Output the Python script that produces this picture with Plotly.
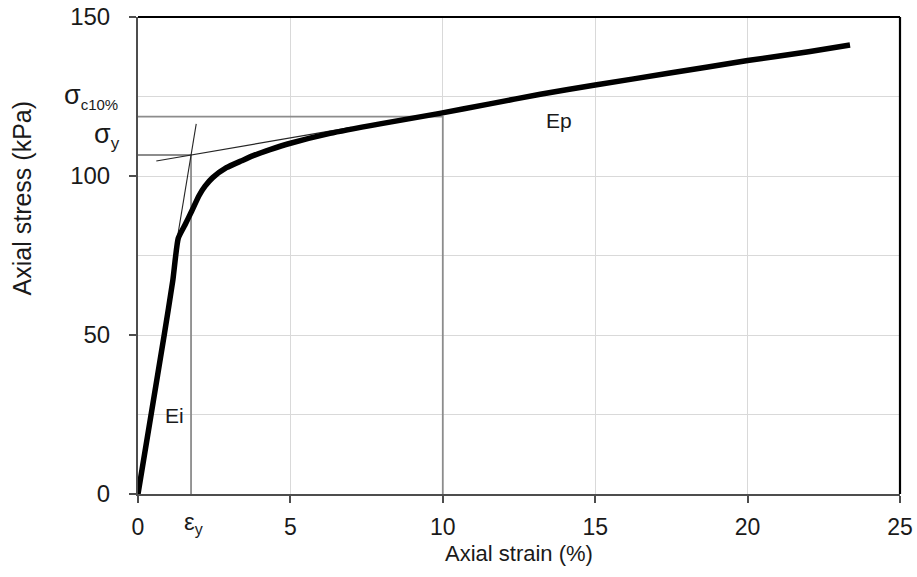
import plotly.graph_objects as go

# ---- data ----
strain = [0, 0.43, 0.86, 1.14, 1.32, 1.54, 1.76, 2.0, 2.2, 2.45, 2.9, 3.4, 3.78, 4.33,
          5.0, 6.3, 7.94, 9.9, 11.5, 13.2, 15.0, 17.4, 20.0, 22.0, 23.36]
stress = [0, 25, 50, 67, 80.4, 84.6, 88.9, 93.8, 96.8, 99.5, 102.6, 104.8, 106.4, 108.3,
          110.3, 113.4, 116.4, 119.7, 122.6, 125.7, 128.6, 132.3, 136.3, 139.1, 141.2]

eps_y = 1.74          # yield strain (%)
sigma_y = 106.6       # yield stress (kPa)
eps_10 = 10.0         # 10 % strain
sigma_c10 = 118.7     # stress at 10 % strain (kPa)

ei_x = [1.2, 1.91]    # initial-modulus tangent
ei_y = [75.3, 116.4]
ep_x = [0.6, 7.0]     # plastic-modulus tangent
ep_y = [104.7, 115.3]

x_ticks = [0, 5, 10, 15, 20, 25]
y_ticks = [0, 50, 100, 150]

REF = "#8c8c8c"
TAN = "#262626"

fig = go.Figure()

# reference (construction) lines
fig.add_trace(go.Scatter(x=[0, eps_10, eps_10], y=[sigma_c10, sigma_c10, 0], mode="lines",
                         line=dict(color=REF, width=1.8), hoverinfo="skip", showlegend=False))
fig.add_trace(go.Scatter(x=[0, eps_y, eps_y], y=[sigma_y, sigma_y, 0], mode="lines",
                         line=dict(color=REF, width=1.8), hoverinfo="skip", showlegend=False))
# tangents
fig.add_trace(go.Scatter(x=ei_x, y=ei_y, mode="lines",
                         line=dict(color=TAN, width=1.1), hoverinfo="skip", showlegend=False))
fig.add_trace(go.Scatter(x=ep_x, y=ep_y, mode="lines",
                         line=dict(color=TAN, width=1.1), hoverinfo="skip", showlegend=False))
# stress-strain curve
fig.add_trace(go.Scatter(x=strain, y=stress, mode="lines",
                         line=dict(color="black", width=5.5, shape="spline", smoothing=0.5),
                         showlegend=False))

font_main = "Liberation Sans, Arial, sans-serif"

fig.update_xaxes(range=[0, 25], tickvals=x_ticks, ticktext=[str(v) for v in x_ticks],
                 showgrid=True, gridcolor="#d9d9d9", gridwidth=1,
                 showline=True, linecolor="#4d4d4d", linewidth=2,
                 ticks="outside", ticklen=7, tickcolor="#4d4d4d", tickwidth=1.5,
                 ticklabelstandoff=4,
                 tickfont=dict(family=font_main, size=23, color="#1a1a1a"),
                 zeroline=False, fixedrange=True, automargin=False)
fig.update_yaxes(range=[0, 150], tickvals=y_ticks, ticktext=[str(v) for v in y_ticks],
                 showgrid=True, gridcolor="#d9d9d9", gridwidth=1,
                 minor=dict(dtick=25, showgrid=True, gridcolor="#d9d9d9", gridwidth=1, ticks=""),
                 showline=True, linecolor="#4d4d4d", linewidth=2,
                 ticks="outside", ticklen=7, tickcolor="#4d4d4d", tickwidth=1.5,
                 ticklabelstandoff=14,
                 tickfont=dict(family=font_main, size=24, color="#1a1a1a"),
                 zeroline=False, fixedrange=True, automargin=False)

annotations = [
    dict(text="Axial stress (kPa)", xref="paper", yref="paper", x=-0.152, y=0.62,
         textangle=-90, showarrow=False, font=dict(family=font_main, size=25, color="#1a1a1a"),
         xanchor="center", yanchor="middle"),
    dict(text="Axial strain (%)", xref="paper", yref="paper", x=0.5, y=-0.124,
         showarrow=False, font=dict(family=font_main, size=22, color="#1a1a1a"),
         xanchor="center", yanchor="middle"),
    dict(text="σ<sub><span style='font-size:15px'>c10%</span></sub>", xref="paper", yref="paper",
         x=-0.1, y=0.834,
         showarrow=False, font=dict(family=font_main, size=27, color="#1a1a1a"),
         xanchor="left", yanchor="middle"),
    dict(text="σ<sub><span style='font-size:17px'>y</span></sub>", xref="paper", yref="paper",
         x=-0.0604, y=0.7505,
         showarrow=False, font=dict(family=font_main, size=27, color="#1a1a1a"),
         xanchor="left", yanchor="middle"),
    dict(text="ε<sub><span style='font-size:16px'>y</span></sub>", xref="paper", yref="paper",
         x=0.073, y=-0.0608,
         showarrow=False, font=dict(family=font_main, size=24, color="#1a1a1a"),
         xanchor="center", yanchor="middle"),
    dict(text="Ei", x=1.21, y=24.8, showarrow=False,
         font=dict(family=font_main, size=21, color="#1a1a1a"), xanchor="center", yanchor="middle"),
    dict(text="Ep", x=13.8, y=117.6, showarrow=False,
         font=dict(family=font_main, size=21, color="#1a1a1a"), xanchor="center", yanchor="middle"),
]

shapes = [
    dict(type="line", xref="paper", yref="paper", x0=0, x1=1, y0=1, y1=1,
         line=dict(color="black", width=2.2)),
    dict(type="line", xref="paper", yref="paper", x0=1, x1=1, y0=0, y1=1,
         line=dict(color="black", width=2.2)),
]

fig.update_layout(width=917, height=577,
                  margin=dict(l=138, r=17, t=17, b=83),
                  paper_bgcolor="white", plot_bgcolor="white",
                  annotations=annotations, shapes=shapes,
                  showlegend=False)

fig.write_html("out.html", include_plotlyjs=True, config={"displayModeBar": False})
